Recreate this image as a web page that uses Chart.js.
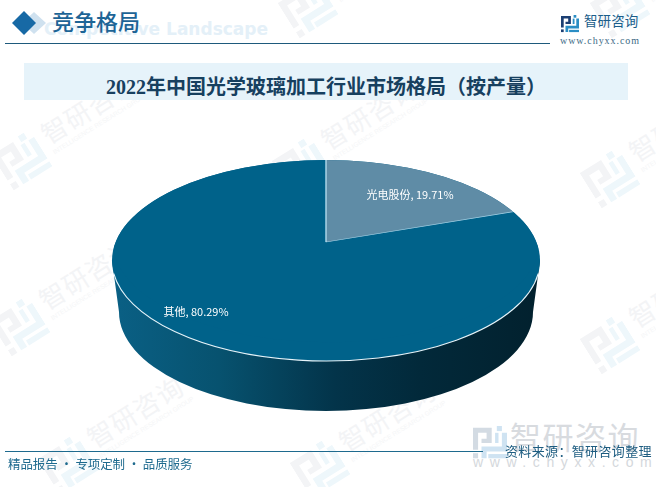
<!DOCTYPE html>
<html lang="zh">
<head>
<meta charset="utf-8">
<title>2022年中国光学玻璃加工行业市场格局</title>
<script src="https://cdn.jsdelivr.net/npm/chart.js@4/dist/chart.umd.min.js"></script>
<style>
  html, body { margin: 0; padding: 0; background: #fff; }
  #page { position: relative; width: 656px; height: 487px; overflow: hidden; font-family: "Noto Sans CJK SC", sans-serif; }
  #page > div, #page > svg, #page > canvas { position: absolute; }
  #pie { left: 0; top: 0; }
  .txt { white-space: nowrap; line-height: 1; }
  .wm { width: 170px; height: 60px; transform: rotate(-32deg); transform-origin: 0 50%; }
  .wm svg { position: absolute; left: 0; top: 8px; width: 46px; height: 46px; --a: #f3f4f6; --b: #eef7fb; }
  .wm b { position: absolute; left: 54px; top: 8px; font-size: 26px; font-weight: 400; letter-spacing: 1px; color: #f3f4f6; white-space: nowrap; line-height: 1; }
  .wm i { position: absolute; left: 54px; top: 37px; font: 6.5px "Liberation Sans"; color: #f5f6f7; white-space: nowrap; }
</style>
</head>
<body>
<svg width="0" height="0" style="position:absolute">
  <symbol id="logo" viewBox="0 0 20 20">
    <path style="fill:var(--a)" d="M0 1H11V10H5V7.5H8V4H3V14H0Z"/>
    <rect style="fill:var(--a)" x="0" y="16" width="3" height="3"/>
    <rect style="fill:var(--b)" x="14" y="0" width="3" height="3"/>
    <path style="fill:var(--b)" d="M17 4H20V15H8V19H5V12H17Z"/>
    <path style="fill:var(--b)" d="M13 4H15V10H13Z"/>
    <rect style="fill:var(--b)" x="9" y="16.5" width="11" height="2.5"/>
  </symbol>
</svg>
<div id="page">
  <div id="marks"></div>

  <div class="txt" style="left:0;top:19px;width:268px;text-align:right;font:bold 17px 'DejaVu Sans';color:#e4f0f8">Competitive Landscape</div>
  <svg style="left:12px;top:11px" width="36" height="24" viewBox="0 0 36 24">
    <path d="M22 1L34 12L22 23L10 12Z" fill="#cfe1ef"/>
    <path d="M12 0L24 12L12 24L0 12Z" fill="#1769a5"/>
  </svg>
  <div class="txt" style="left:52px;top:9px;font-size:22px;font-weight:500;color:#1d6496">竞争格局</div>
  <div style="left:5px;top:43px;width:545px;height:1px;background:#1e5a7c"></div>

  <svg style="left:561px;top:15px" width="18" height="18"><use href="#logo" style="--a:#1c3f73;--b:#2a8dc4"/></svg>
  <div class="txt" style="left:584px;top:14px;font-size:13.5px;letter-spacing:.1px;color:#1a5d8a">智研咨询</div>
  <div class="txt" style="left:560px;top:35px;font:10px 'Liberation Serif';letter-spacing:.95px;color:#3b6a85">www.chyxx.com</div>

  <div style="left:24px;top:63px;width:604px;height:37px;background:#e6f3fa"></div>
  <div class="txt" style="left:24px;top:71px;width:604px;text-align:center;font:bold 20px 'Liberation Serif','Noto Sans CJK SC';color:#17405f">2022年中国光学玻璃加工行业市场格局（按产量）</div>

  <svg style="left:473px;top:425px" width="34" height="36"><use href="#logo" style="--a:#d3dbe3;--b:#cfe3f2"/></svg>
  <div class="txt" style="left:510px;top:420px;font-size:31px;letter-spacing:1.5px;color:#d8dbdf">智研咨询</div>
  <div class="txt" style="left:473px;top:454px;font:14px 'Liberation Sans';letter-spacing:6.6px;color:#d4d8dc">www.chyxx.com</div>

  <canvas id="pie" width="656" height="487"></canvas>

  <div style="left:5px;top:451px;width:478px;height:1px;background:#1e6a8e"></div>
  <div class="txt" style="left:505px;top:444px;font-size:13px;letter-spacing:.35px;color:#1d5c80">资料来源：智研咨询整理</div>
  <div class="txt" style="left:8px;top:458px;font-size:12.5px;letter-spacing:-.1px;color:#1e6a8e;white-space:pre">精品报告 · 专项定制 · 品质服务</div>
</div>

<script>
// values
const categories = ['其他', '光电股份'];
const shares = [80.29, 19.71];
const sliceColors = ['#00628a', '#5f8ca6'];
const sliceEdges = ['#00628a', '#a9d3e6'];
const labelCenters = [[196, 312], [410, 195]];
const watermarks = [[2, 172], [288, 20], [282, 178], [590, 190], [0, 338], [590, 356], [48, 476], [300, 480], [600, 20]];

// faint background logos
const marks = document.getElementById('marks');
watermarks.forEach(function(p) {
    const el = document.createElement('div');
    el.className = 'wm';
    el.style.cssText = 'position:absolute;left:' + p[0] + 'px;top:' + (p[1] - 30) + 'px';
    el.innerHTML = '<svg><use href="#logo"/></svg><b>智研咨询</b><i>INTELLIGENCE RESEARCH GROUP</i>';
    marks.appendChild(el);
});

// the top face is an ellipse, and the slices fan out from a point above its centre
const face = { x: 326, y: 260.5, rx: 214, ry: 100.5 };
const foot = { x: 326, y: 312, rx: 207, ry: 99 };
const hubY = 242;

const tiltPlugin = {
    id: 'tilt',
    beforeDatasetsDraw(chart) {
        const ctx = chart.ctx;
        const arc = chart.getDatasetMeta(0).data[0];

        // side wall
        const wall = ctx.createLinearGradient(face.x - face.rx, 0, face.x + face.rx, 0);
        wall.addColorStop(0, '#0a6085');
        wall.addColorStop(0.25, '#07526f');
        wall.addColorStop(0.52, '#03344a');
        wall.addColorStop(0.72, '#02293a');
        wall.addColorStop(1, '#02212e');
        ctx.save();
        ctx.beginPath();
        ctx.moveTo(face.x + face.rx, face.y);
        ctx.lineTo(foot.x + foot.rx, foot.y);
        ctx.ellipse(foot.x, foot.y, foot.rx, foot.ry, 0, 0, Math.PI);
        ctx.lineTo(face.x - face.rx, face.y);
        ctx.closePath();
        ctx.fillStyle = wall;
        ctx.fill();

        // top face
        ctx.beginPath();
        ctx.ellipse(face.x, face.y, face.rx, face.ry, 0, 0, Math.PI * 2);
        ctx.fillStyle = sliceColors[0];
        ctx.fill();
        ctx.clip();

        // squash the round pie, restored in afterDatasetsDraw
        ctx.translate(arc.x, hubY);
        ctx.scale(1, face.ry / face.rx);
        ctx.translate(-arc.x, -arc.y);
    },
    afterDatasetsDraw(chart) {
        const ctx = chart.ctx;
        ctx.restore();

        // white rim along the front edge
        ctx.beginPath();
        ctx.ellipse(face.x, face.y, face.rx, face.ry, 0, 0.13, Math.PI - 0.13);
        ctx.strokeStyle = '#e6f4fa';
        ctx.lineWidth = 1.1;
        ctx.stroke();
    },
    afterDraw(chart) {
        const ctx = chart.ctx;
        ctx.save();
        ctx.font = '11px "Noto Sans CJK SC"';
        ctx.fillStyle = '#fff';
        ctx.textAlign = 'center';
        ctx.textBaseline = 'middle';
        categories.forEach(function(name, i) {
            ctx.fillText(name + ', ' + shares[i].toFixed(2) + '%', labelCenters[i][0], labelCenters[i][1]);
        });
        ctx.restore();
    }
};

new Chart(document.getElementById('pie').getContext('2d'), {
    type: 'pie',
    data: {
        labels: categories,
        datasets: [{
            data: shares,
            backgroundColor: sliceColors,
            borderColor: sliceEdges,
            borderWidth: [0, 1.5],
            clip: false
        }]
    },
    options: {
        responsive: false,
        animation: false,
        devicePixelRatio: 1,
        rotation: 360 * shares[1] / 100,
        layout: { padding: { left: 112, right: 116, top: 29, bottom: 30 } },
        plugins: {
            legend: { display: false },
            tooltip: { enabled: false }
        }
    },
    plugins: [tiltPlugin]
});
</script>
</body>
</html>
